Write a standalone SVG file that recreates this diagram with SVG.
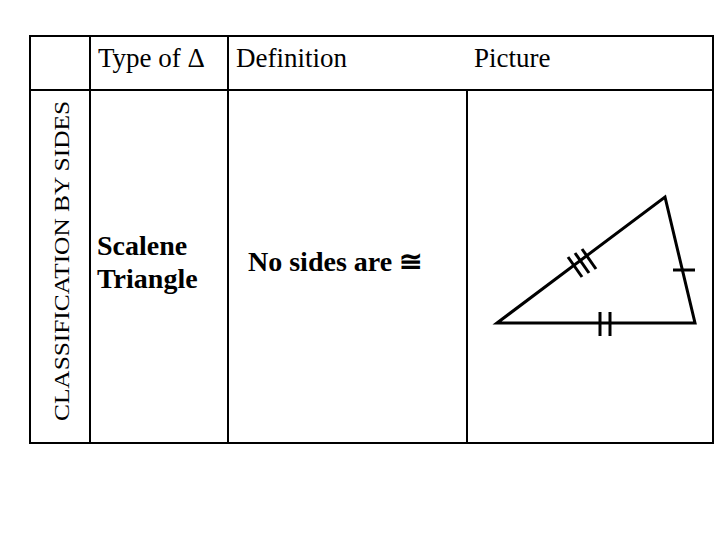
<svg xmlns="http://www.w3.org/2000/svg" width="720" height="540" viewBox="0 0 720 540">
<style>
.l{stroke:#000;stroke-width:2;fill:none}
.t{stroke:#000;stroke-width:3;fill:none}
.h{font-family:"Liberation Serif",serif;font-size:27px}
.b{font-family:"Liberation Serif",serif;font-size:28px;font-weight:bold}
.v{font-family:"Liberation Serif",serif;font-size:21px}
</style>
<rect width="720" height="540" fill="#fff"/>
<g id="table">
<rect class="l" x="30" y="36" width="683" height="407"/>
<line class="l" x1="90" y1="36" x2="90" y2="443"/>
<line class="l" x1="228" y1="36" x2="228" y2="443"/>
<line class="l" x1="467" y1="90" x2="467" y2="443"/>
<line class="l" x1="30" y1="90" x2="713" y2="90"/>
</g>
<g id="headers">
<text class="h" x="98" y="67">Type of Δ</text>
<text class="h" x="236" y="67">Definition</text>
<text class="h" x="474" y="67">Picture</text>
<text class="v" transform="translate(69,421) rotate(-90)" textLength="320" lengthAdjust="spacingAndGlyphs">CLASSIFICATION BY SIDES</text>
</g>
<g id="cells">
<text class="b" x="97" y="255">Scalene</text>
<text class="b" x="97" y="288">Triangle</text>
<text class="b" x="248" y="271">No sides are ≅</text>
</g>
<g id="triangle">
<polygon class="t" points="497,323 665,197 695,323"/>
<line class="t" x1="673" y1="270" x2="695" y2="270"/>
<line class="t" x1="600" y1="312" x2="600" y2="336"/>
<line class="t" x1="610" y1="312" x2="610" y2="336"/>
<line class="t" x1="568" y1="257" x2="582" y2="277"/>
<line class="t" x1="575" y1="253" x2="589" y2="273"/>
<line class="t" x1="582" y1="249" x2="596" y2="269"/>
</g>
</svg>
